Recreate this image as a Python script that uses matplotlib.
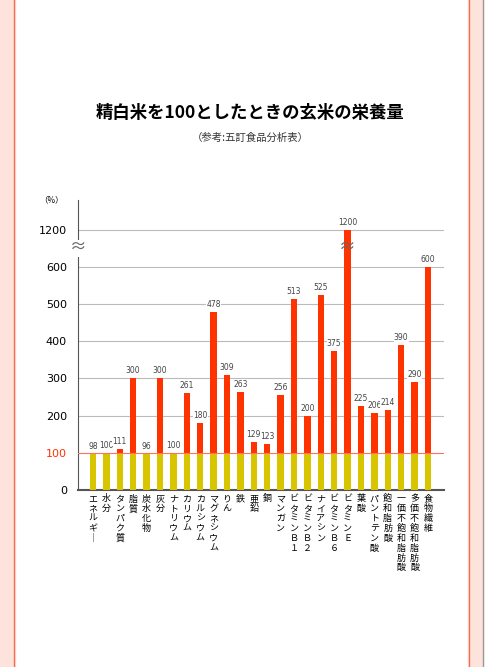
import matplotlib
matplotlib.use("Agg")
import matplotlib.pyplot as plt
from matplotlib.patches import Rectangle

plt.rcParams['font.family'] = ['Noto Sans CJK JP', 'DejaVu Sans']

categories = ["エネルギ｜", "水分", "タンパク質", "脂質", "炭水化物", "灰分", "ナトリウム", "カリウム",
              "カルシウム", "マグネシウム", "りん", "鉄", "亜鉛", "銅", "マンガン", "ビタミンＢ１",
              "ビタミンＢ２", "ナイアシン", "ビタミンＢ６", "ビタミンＥ", "葉酸", "パントテン酸",
              "飽和脂肪酸", "一価不飽和脂肪酸", "多価不飽和脂肪酸", "食物繊維"]
values = [98, 100, 111, 300, 96, 300, 100, 261, 180, 478, 309, 263, 129, 123, 256, 513,
          200, 525, 375, 1200, 225, 206, 214, 390, 290, 600]
ytick_values = [0, 100, 200, 300, 400, 500, 600, 1200]

def disp(v):
    return v if v <= 600 else 700

fig = plt.figure(figsize=(5, 6.67), dpi=100)
fig.add_artist(Rectangle((0.0, 0), 0.03, 1, transform=fig.transFigure, color='#fde3dc', zorder=0))
fig.add_artist(Rectangle((0.935, 0), 0.03, 1, transform=fig.transFigure, color='#fde3dc', zorder=0))
for x, c in [(0.028, '#f07050'), (0.937, '#f07050'), (0.965, '#999999')]:
    fig.add_artist(plt.Line2D([x, x], [0, 1], transform=fig.transFigure, color=c, lw=1))

fig.text(0.5, 1 - 113/667, "精白米を100としたときの玄米の栄養量", ha='center', va='center',
         fontsize=12.5, fontweight='bold')
fig.text(0.5, 1 - 138/667, "（参考:五訂食品分析表）", ha='center', va='center', fontsize=7.5, color='#333333')

ax = fig.add_axes([78/500, 1 - 490/667, (444-78)/500, (490-200)/667])
ax.set_xlim(-1.12, 26.2)
ax.set_ylim(0, 780)
w = 0.48
for i, v in enumerate(values):
    ax.bar(i, min(v, 100), width=w, color='#d9c400', zorder=3)
    if v > 100:
        ax.bar(i, disp(v) - 100, bottom=100, width=w, color='#ff3300', zorder=3)
    ax.text(i, disp(v) + 8, str(v), ha='center', va='bottom', fontsize=5.5,
            color='#444444', family='Liberation Sans Narrow', zorder=4,
            bbox=dict(fc='white', ec='none', pad=0.2))

dt = [disp(t) for t in ytick_values]
for t in dt[2:]:
    ax.axhline(t, color='#bbbbbb', lw=0.8, zorder=1)
ax.axhline(100, color='#ff7060', lw=0.8, zorder=4)
ax.set_yticks(dt)
ax.set_yticklabels([str(t) for t in ytick_values], family='DejaVu Sans', fontsize=8)
ax.get_yticklabels()[1].set_color('#ff3300')
ax.tick_params(axis='y', length=0, pad=8)
ax.set_xticks([])
for s in ['top', 'right']:
    ax.spines[s].set_visible(False)
ax.spines['left'].set_color('#555555')
ax.spines['bottom'].set_color('#555555')
ax.spines['bottom'].set_linewidth(1.5)
ax.text(-0.04, 1.0, "（%）", transform=ax.transAxes, ha='right', va='center', fontsize=6)
ax.text(-1.12, 650, "≈", ha='center', va='center', fontsize=12, color='#666666', zorder=6,
        bbox=dict(fc='white', ec='none', pad=0), clip_on=False)
ax.text(values.index(1200), 650, "≈", ha='center', va='center', fontsize=12, color='#666666', zorder=6)

for i, c in enumerate(categories):
    ax.text(i, -12, "\n".join(c), ha='center', va='top', fontsize=6.5,
            linespacing=1.12, clip_on=False)

fig.savefig("out.png", dpi=100)
